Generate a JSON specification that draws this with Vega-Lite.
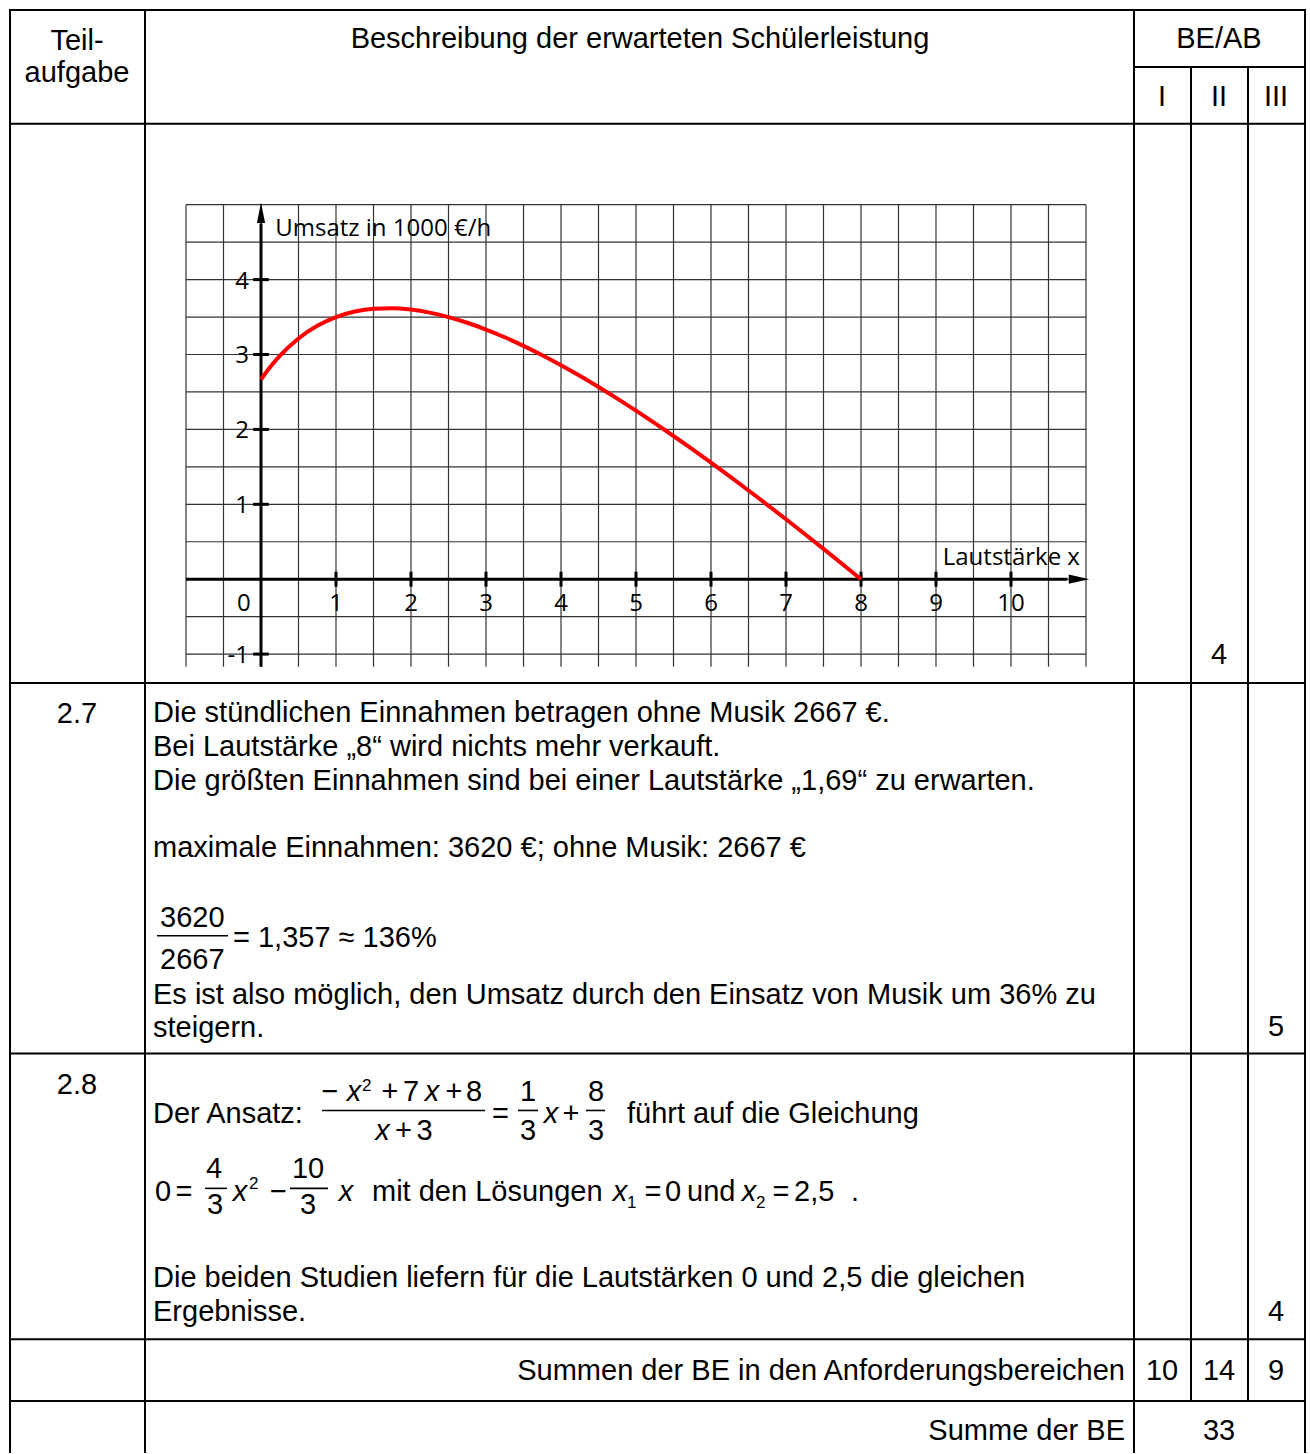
{
  "$schema": "https://vega.github.io/schema/vega-lite/v6.json",
  "width": 1310,
  "height": 1454,
  "padding": 0,
  "autosize": {"type": "fit", "contains": "padding"},
  "background": "white",
  "config": {"view": {"stroke": null}},
  "datasets": {
    "tableLines": [
      {"x1": 10, "x2": 1305, "y1": 10, "y2": 10},
      {"x1": 1134, "x2": 1305, "y1": 67, "y2": 67},
      {"x1": 10, "x2": 1305, "y1": 124, "y2": 124},
      {"x1": 10, "x2": 1305, "y1": 684, "y2": 684},
      {"x1": 10, "x2": 1305, "y1": 1055, "y2": 1055},
      {"x1": 10, "x2": 1305, "y1": 1341, "y2": 1341},
      {"x1": 10, "x2": 1305, "y1": 1403, "y2": 1403},
      {"x1": 10, "x2": 10, "y1": 10, "y2": 1454},
      {"x1": 145, "x2": 145, "y1": 10, "y2": 1454},
      {"x1": 1134, "x2": 1134, "y1": 10, "y2": 1454},
      {"x1": 1191, "x2": 1191, "y1": 67, "y2": 1403},
      {"x1": 1248, "x2": 1248, "y1": 67, "y2": 1403},
      {"x1": 1305, "x2": 1305, "y1": 10, "y2": 1454}
    ],
    "fractionBars": [
      {"x1": 157, "x2": 228, "y1": 937},
      {"x1": 322, "x2": 485, "y1": 1112},
      {"x1": 518, "x2": 538, "y1": 1112},
      {"x1": 586, "x2": 605, "y1": 1112},
      {"x1": 205, "x2": 227, "y1": 1190},
      {"x1": 290, "x2": 328, "y1": 1190}
    ],
    "txtLeft": [
      {"t": "Die stündlichen Einnahmen betragen ohne Musik 2667 €.", "x": 153, "y": 723},
      {"t": "Bei Lautstärke „8“ wird nichts mehr verkauft.", "x": 153, "y": 757},
      {"t": "Die größten Einnahmen sind bei einer Lautstärke „1,69“ zu erwarten.", "x": 153, "y": 791},
      {"t": "maximale Einnahmen: 3620 €; ohne Musik: 2667 €", "x": 153, "y": 858},
      {"t": "3620", "x": 160, "y": 928},
      {"t": "2667", "x": 160, "y": 970},
      {"t": "= 1,357 ≈ 136%", "x": 233, "y": 948},
      {"t": "Es ist also möglich, den Umsatz durch den Einsatz von Musik um 36% zu", "x": 153, "y": 1005},
      {"t": "steigern.", "x": 153, "y": 1038},
      {"t": "Der Ansatz:", "x": 153, "y": 1125},
      {"t": "führt auf die Gleichung", "x": 627, "y": 1125},
      {"t": "mit den Lösungen", "x": 372, "y": 1203},
      {"t": "und", "x": 687, "y": 1203},
      {"t": "2,5", "x": 794, "y": 1203},
      {"t": ".", "x": 851, "y": 1203},
      {"t": "Die beiden Studien liefern für die Lautstärken 0 und 2,5 die gleichen", "x": 153, "y": 1289},
      {"t": "Ergebnisse.", "x": 153, "y": 1323}
    ],
    "txtCenter": [
      {"t": "Teil-", "x": 77, "y": 50},
      {"t": "aufgabe", "x": 77, "y": 82},
      {"t": "Beschreibung der erwarteten Schülerleistung", "x": 640, "y": 48},
      {"t": "BE/AB", "x": 1219, "y": 48},
      {"t": "I", "x": 1162, "y": 106},
      {"t": "II", "x": 1219, "y": 106},
      {"t": "III", "x": 1276, "y": 106},
      {"t": "4", "x": 1219, "y": 665},
      {"t": "2.7", "x": 77, "y": 724},
      {"t": "5", "x": 1276, "y": 1037},
      {"t": "2.8", "x": 77, "y": 1096},
      {"t": "−", "x": 330, "y": 1103},
      {"t": "+", "x": 390, "y": 1103},
      {"t": "7", "x": 411, "y": 1103},
      {"t": "+", "x": 454, "y": 1103},
      {"t": "8", "x": 474, "y": 1103},
      {"t": "+", "x": 403.5, "y": 1142},
      {"t": "3", "x": 424.5, "y": 1142},
      {"t": "=", "x": 500.5, "y": 1125},
      {"t": "+", "x": 571, "y": 1125},
      {"t": "1", "x": 528, "y": 1103},
      {"t": "3", "x": 528, "y": 1142},
      {"t": "8", "x": 596, "y": 1103},
      {"t": "3", "x": 596, "y": 1142},
      {"t": "0", "x": 163, "y": 1203},
      {"t": "=", "x": 184, "y": 1203},
      {"t": "4", "x": 214, "y": 1180},
      {"t": "3", "x": 215, "y": 1216},
      {"t": "−", "x": 278.5, "y": 1203},
      {"t": "10", "x": 308, "y": 1180},
      {"t": "3", "x": 308, "y": 1216},
      {"t": "=", "x": 653, "y": 1203},
      {"t": "0", "x": 673, "y": 1203},
      {"t": "=", "x": 781, "y": 1203},
      {"t": "4", "x": 1276, "y": 1323},
      {"t": "10", "x": 1162, "y": 1382},
      {"t": "14", "x": 1219, "y": 1382},
      {"t": "9", "x": 1276, "y": 1382},
      {"t": "33", "x": 1219, "y": 1442}
    ],
    "txtRight": [
      {"t": "Summen der BE in den Anforderungsbereichen", "x": 1125, "y": 1382},
      {"t": "Summe der BE", "x": 1125, "y": 1442}
    ],
    "txtItalic": [
      {"t": "x", "x": 354, "y": 1103},
      {"t": "x", "x": 432, "y": 1103},
      {"t": "x", "x": 382.5, "y": 1142},
      {"t": "x", "x": 551, "y": 1125},
      {"t": "x", "x": 240, "y": 1203},
      {"t": "x", "x": 346, "y": 1203},
      {"t": "x", "x": 620, "y": 1203},
      {"t": "x", "x": 749, "y": 1203}
    ],
    "txtSmall": [
      {"t": "2", "x": 362, "y": 1093},
      {"t": "2", "x": 249, "y": 1191},
      {"t": "1", "x": 627, "y": 1210},
      {"t": "2", "x": 756, "y": 1210}
    ],
    "vgrid": [
      {"x": -1}, {"x": -0.5}, {"x": 0}, {"x": 0.5}, {"x": 1}, {"x": 1.5}, {"x": 2}, {"x": 2.5},
      {"x": 3}, {"x": 3.5}, {"x": 4}, {"x": 4.5}, {"x": 5}, {"x": 5.5}, {"x": 6}, {"x": 6.5},
      {"x": 7}, {"x": 7.5}, {"x": 8}, {"x": 8.5}, {"x": 9}, {"x": 9.5}, {"x": 10}, {"x": 10.5}, {"x": 11}
    ],
    "hgrid": [
      {"y": -1}, {"y": -0.5}, {"y": 0}, {"y": 0.5}, {"y": 1}, {"y": 1.5}, {"y": 2},
      {"y": 2.5}, {"y": 3}, {"y": 3.5}, {"y": 4}, {"y": 4.5}, {"y": 5}
    ],
    "xticks": [
      {"x": 1}, {"x": 2}, {"x": 3}, {"x": 4}, {"x": 5}, {"x": 6}, {"x": 7}, {"x": 8}, {"x": 9}, {"x": 10}
    ],
    "yticks": [
      {"y": -1}, {"y": 1}, {"y": 2}, {"y": 3}, {"y": 4}
    ],
    "xlabels": [
      {"label": "0", "x": -0.23, "y": -0.4267},
      {"label": "1", "x": 1, "y": -0.4267},
      {"label": "2", "x": 2, "y": -0.4267},
      {"label": "3", "x": 3, "y": -0.4267},
      {"label": "4", "x": 4, "y": -0.4267},
      {"label": "5", "x": 5, "y": -0.4267},
      {"label": "6", "x": 6, "y": -0.4267},
      {"label": "7", "x": 7, "y": -0.4267},
      {"label": "8", "x": 8, "y": -0.4267},
      {"label": "9", "x": 9, "y": -0.4267},
      {"label": "10", "x": 10, "y": -0.4267}
    ],
    "ylabels": [
      {"label": "4", "x": -0.16, "y": 3.88},
      {"label": "3", "x": -0.16, "y": 2.88},
      {"label": "2", "x": -0.16, "y": 1.88},
      {"label": "1", "x": -0.16, "y": 0.88},
      {"label": "-1", "x": -0.16, "y": -1.12}
    ],
    "axisTitles": [
      {"label": "Umsatz in 1000 €/h", "x": 0.19, "y": 4.587},
      {"label": "Lautstärke x", "x": 9.09, "y": 0.187}
    ],
    "curve": [
      {"x": 0, "y": 2.6667}, {"x": 0.125, "y": 2.835}, {"x": 0.25, "y": 2.9808}, {"x": 0.5, "y": 3.2143},
      {"x": 0.75, "y": 3.3833}, {"x": 1, "y": 3.5}, {"x": 1.25, "y": 3.5735}, {"x": 1.5, "y": 3.6111},
      {"x": 1.75, "y": 3.6184}, {"x": 2, "y": 3.6}, {"x": 2.25, "y": 3.5595}, {"x": 2.5, "y": 3.5},
      {"x": 2.75, "y": 3.4239}, {"x": 3, "y": 3.3333}, {"x": 3.25, "y": 3.23}, {"x": 3.5, "y": 3.1154},
      {"x": 3.75, "y": 2.9907}, {"x": 4, "y": 2.8571}, {"x": 4.25, "y": 2.7155}, {"x": 4.5, "y": 2.5667},
      {"x": 4.75, "y": 2.4113}, {"x": 5, "y": 2.25}, {"x": 5.25, "y": 2.0833}, {"x": 5.5, "y": 1.9118},
      {"x": 5.75, "y": 1.7357}, {"x": 6, "y": 1.5556}, {"x": 6.25, "y": 1.3716}, {"x": 6.5, "y": 1.1842},
      {"x": 6.75, "y": 0.9936}, {"x": 7, "y": 0.8}, {"x": 7.25, "y": 0.6037}, {"x": 7.5, "y": 0.4048},
      {"x": 7.75, "y": 0.2035}, {"x": 8, "y": 0}
    ]
  },
  "layer": [
    {
      "layer": [
        {
          "data": {"name": "tableLines"},
          "mark": {"type": "rule", "color": "black", "strokeWidth": 2, "strokeCap": "square"},
          "encoding": {
            "x": {"field": "x1", "type": "quantitative", "scale": {"domain": [0, 1310], "nice": false, "zero": false}, "axis": null},
            "x2": {"field": "x2"},
            "y": {"field": "y1", "type": "quantitative", "scale": {"domain": [0, 1454], "nice": false, "zero": false, "reverse": true}, "axis": null},
            "y2": {"field": "y2"}
          }
        },
        {
          "data": {"name": "fractionBars"},
          "mark": {"type": "rule", "color": "black", "strokeWidth": 1.6},
          "encoding": {
            "x": {"field": "x1", "type": "quantitative", "scale": {"domain": [0, 1310], "nice": false, "zero": false}, "axis": null},
            "x2": {"field": "x2"},
            "y": {"field": "y1", "type": "quantitative", "scale": {"domain": [0, 1454], "nice": false, "zero": false, "reverse": true}, "axis": null}
          }
        },
        {
          "data": {"name": "txtLeft"},
          "mark": {"type": "text", "font": "Liberation Sans", "fontSize": 29, "align": "left", "baseline": "alphabetic", "color": "black"},
          "encoding": {
            "x": {"field": "x", "type": "quantitative", "scale": {"domain": [0, 1310], "nice": false, "zero": false}, "axis": null},
            "y": {"field": "y", "type": "quantitative", "scale": {"domain": [0, 1454], "nice": false, "zero": false, "reverse": true}, "axis": null},
            "text": {"field": "t"}
          }
        },
        {
          "data": {"name": "txtCenter"},
          "mark": {"type": "text", "font": "Liberation Sans", "fontSize": 29, "align": "center", "baseline": "alphabetic", "color": "black"},
          "encoding": {
            "x": {"field": "x", "type": "quantitative", "scale": {"domain": [0, 1310], "nice": false, "zero": false}, "axis": null},
            "y": {"field": "y", "type": "quantitative", "scale": {"domain": [0, 1454], "nice": false, "zero": false, "reverse": true}, "axis": null},
            "text": {"field": "t"}
          }
        },
        {
          "data": {"name": "txtRight"},
          "mark": {"type": "text", "font": "Liberation Sans", "fontSize": 29, "align": "right", "baseline": "alphabetic", "color": "black"},
          "encoding": {
            "x": {"field": "x", "type": "quantitative", "scale": {"domain": [0, 1310], "nice": false, "zero": false}, "axis": null},
            "y": {"field": "y", "type": "quantitative", "scale": {"domain": [0, 1454], "nice": false, "zero": false, "reverse": true}, "axis": null},
            "text": {"field": "t"}
          }
        },
        {
          "data": {"name": "txtItalic"},
          "mark": {"type": "text", "font": "Liberation Sans", "fontSize": 29, "fontStyle": "italic", "align": "center", "baseline": "alphabetic", "color": "black"},
          "encoding": {
            "x": {"field": "x", "type": "quantitative", "scale": {"domain": [0, 1310], "nice": false, "zero": false}, "axis": null},
            "y": {"field": "y", "type": "quantitative", "scale": {"domain": [0, 1454], "nice": false, "zero": false, "reverse": true}, "axis": null},
            "text": {"field": "t"}
          }
        },
        {
          "data": {"name": "txtSmall"},
          "mark": {"type": "text", "font": "Liberation Sans", "fontSize": 17, "align": "left", "baseline": "alphabetic", "color": "black"},
          "encoding": {
            "x": {"field": "x", "type": "quantitative", "scale": {"domain": [0, 1310], "nice": false, "zero": false}, "axis": null},
            "y": {"field": "y", "type": "quantitative", "scale": {"domain": [0, 1454], "nice": false, "zero": false, "reverse": true}, "axis": null},
            "text": {"field": "t"}
          }
        }
      ]
    },
    {
      "layer": [
        {
          "data": {"name": "vgrid"},
          "mark": {"type": "rule", "color": "#333333", "strokeWidth": 1.2},
          "encoding": {
            "x": {"field": "x", "type": "quantitative", "scale": {"domain": [-3.48, 13.9867], "nice": false, "zero": false}, "axis": null},
            "y": {"datum": -1.17, "type": "quantitative", "scale": {"domain": [-11.6533, 7.7333], "nice": false, "zero": false}, "axis": null},
            "y2": {"datum": 5}
          }
        },
        {
          "data": {"name": "hgrid"},
          "mark": {"type": "rule", "color": "#333333", "strokeWidth": 1.2},
          "encoding": {
            "x": {"datum": -1, "type": "quantitative", "scale": {"domain": [-3.48, 13.9867], "nice": false, "zero": false}, "axis": null},
            "x2": {"datum": 11},
            "y": {"field": "y", "type": "quantitative", "scale": {"domain": [-11.6533, 7.7333], "nice": false, "zero": false}, "axis": null}
          }
        },
        {
          "data": {"values": [{"x1": -1, "x2": 10.75, "y": 0}]},
          "mark": {"type": "rule", "color": "black", "strokeWidth": 3},
          "encoding": {
            "x": {"field": "x1", "type": "quantitative", "scale": {"domain": [-3.48, 13.9867], "nice": false, "zero": false}, "axis": null},
            "x2": {"field": "x2"},
            "y": {"field": "y", "type": "quantitative", "scale": {"domain": [-11.6533, 7.7333], "nice": false, "zero": false}, "axis": null}
          }
        },
        {
          "data": {"values": [{"x": 0, "y1": -1.17, "y2": 4.75}]},
          "mark": {"type": "rule", "color": "black", "strokeWidth": 3},
          "encoding": {
            "x": {"field": "x", "type": "quantitative", "scale": {"domain": [-3.48, 13.9867], "nice": false, "zero": false}, "axis": null},
            "y": {"field": "y1", "type": "quantitative", "scale": {"domain": [-11.6533, 7.7333], "nice": false, "zero": false}, "axis": null},
            "y2": {"field": "y2"}
          }
        },
        {
          "data": {"name": "xticks"},
          "mark": {"type": "rule", "color": "black", "strokeWidth": 3},
          "encoding": {
            "x": {"field": "x", "type": "quantitative", "scale": {"domain": [-3.48, 13.9867], "nice": false, "zero": false}, "axis": null},
            "y": {"datum": -0.1, "type": "quantitative", "scale": {"domain": [-11.6533, 7.7333], "nice": false, "zero": false}, "axis": null},
            "y2": {"datum": 0.1}
          }
        },
        {
          "data": {"name": "yticks"},
          "mark": {"type": "rule", "color": "black", "strokeWidth": 3},
          "encoding": {
            "x": {"datum": -0.105, "type": "quantitative", "scale": {"domain": [-3.48, 13.9867], "nice": false, "zero": false}, "axis": null},
            "x2": {"datum": 0.105},
            "y": {"field": "y", "type": "quantitative", "scale": {"domain": [-11.6533, 7.7333], "nice": false, "zero": false}, "axis": null}
          }
        },
        {
          "data": {"values": [{"x": 10.907, "y": 0}]},
          "mark": {"type": "point", "shape": "M1,0L-1,-0.45L-1,0.45Z", "size": 420, "filled": true, "color": "black", "opacity": 1, "strokeWidth": 0},
          "encoding": {
            "x": {"field": "x", "type": "quantitative", "scale": {"domain": [-3.48, 13.9867], "nice": false, "zero": false}, "axis": null},
            "y": {"field": "y", "type": "quantitative", "scale": {"domain": [-11.6533, 7.7333], "nice": false, "zero": false}, "axis": null}
          }
        },
        {
          "data": {"values": [{"x": 0, "y": 4.893}]},
          "mark": {"type": "point", "shape": "M0,-1L0.4,1L-0.4,1Z", "size": 420, "filled": true, "color": "black", "opacity": 1, "strokeWidth": 0},
          "encoding": {
            "x": {"field": "x", "type": "quantitative", "scale": {"domain": [-3.48, 13.9867], "nice": false, "zero": false}, "axis": null},
            "y": {"field": "y", "type": "quantitative", "scale": {"domain": [-11.6533, 7.7333], "nice": false, "zero": false}, "axis": null}
          }
        },
        {
          "data": {"name": "curve"},
          "mark": {"type": "line", "color": "#ff0000", "strokeWidth": 4, "interpolate": "monotone"},
          "encoding": {
            "x": {"field": "x", "type": "quantitative", "scale": {"domain": [-3.48, 13.9867], "nice": false, "zero": false}, "axis": null},
            "y": {"field": "y", "type": "quantitative", "scale": {"domain": [-11.6533, 7.7333], "nice": false, "zero": false}, "axis": null}
          }
        },
        {
          "data": {"name": "xlabels"},
          "mark": {"type": "text", "font": "Open Sans", "fontSize": 24, "align": "center", "baseline": "alphabetic", "color": "black"},
          "encoding": {
            "x": {"field": "x", "type": "quantitative", "scale": {"domain": [-3.48, 13.9867], "nice": false, "zero": false}, "axis": null},
            "y": {"field": "y", "type": "quantitative", "scale": {"domain": [-11.6533, 7.7333], "nice": false, "zero": false}, "axis": null},
            "text": {"field": "label"}
          }
        },
        {
          "data": {"name": "ylabels"},
          "mark": {"type": "text", "font": "Open Sans", "fontSize": 24, "align": "right", "baseline": "alphabetic", "color": "black"},
          "encoding": {
            "x": {"field": "x", "type": "quantitative", "scale": {"domain": [-3.48, 13.9867], "nice": false, "zero": false}, "axis": null},
            "y": {"field": "y", "type": "quantitative", "scale": {"domain": [-11.6533, 7.7333], "nice": false, "zero": false}, "axis": null},
            "text": {"field": "label"}
          }
        },
        {
          "data": {"name": "axisTitles"},
          "mark": {"type": "text", "font": "Open Sans", "fontSize": 24, "align": "left", "baseline": "alphabetic", "color": "black"},
          "encoding": {
            "x": {"field": "x", "type": "quantitative", "scale": {"domain": [-3.48, 13.9867], "nice": false, "zero": false}, "axis": null},
            "y": {"field": "y", "type": "quantitative", "scale": {"domain": [-11.6533, 7.7333], "nice": false, "zero": false}, "axis": null},
            "text": {"field": "label"}
          }
        }
      ]
    }
  ],
  "resolve": {"scale": {"x": "independent", "y": "independent"}}
}
